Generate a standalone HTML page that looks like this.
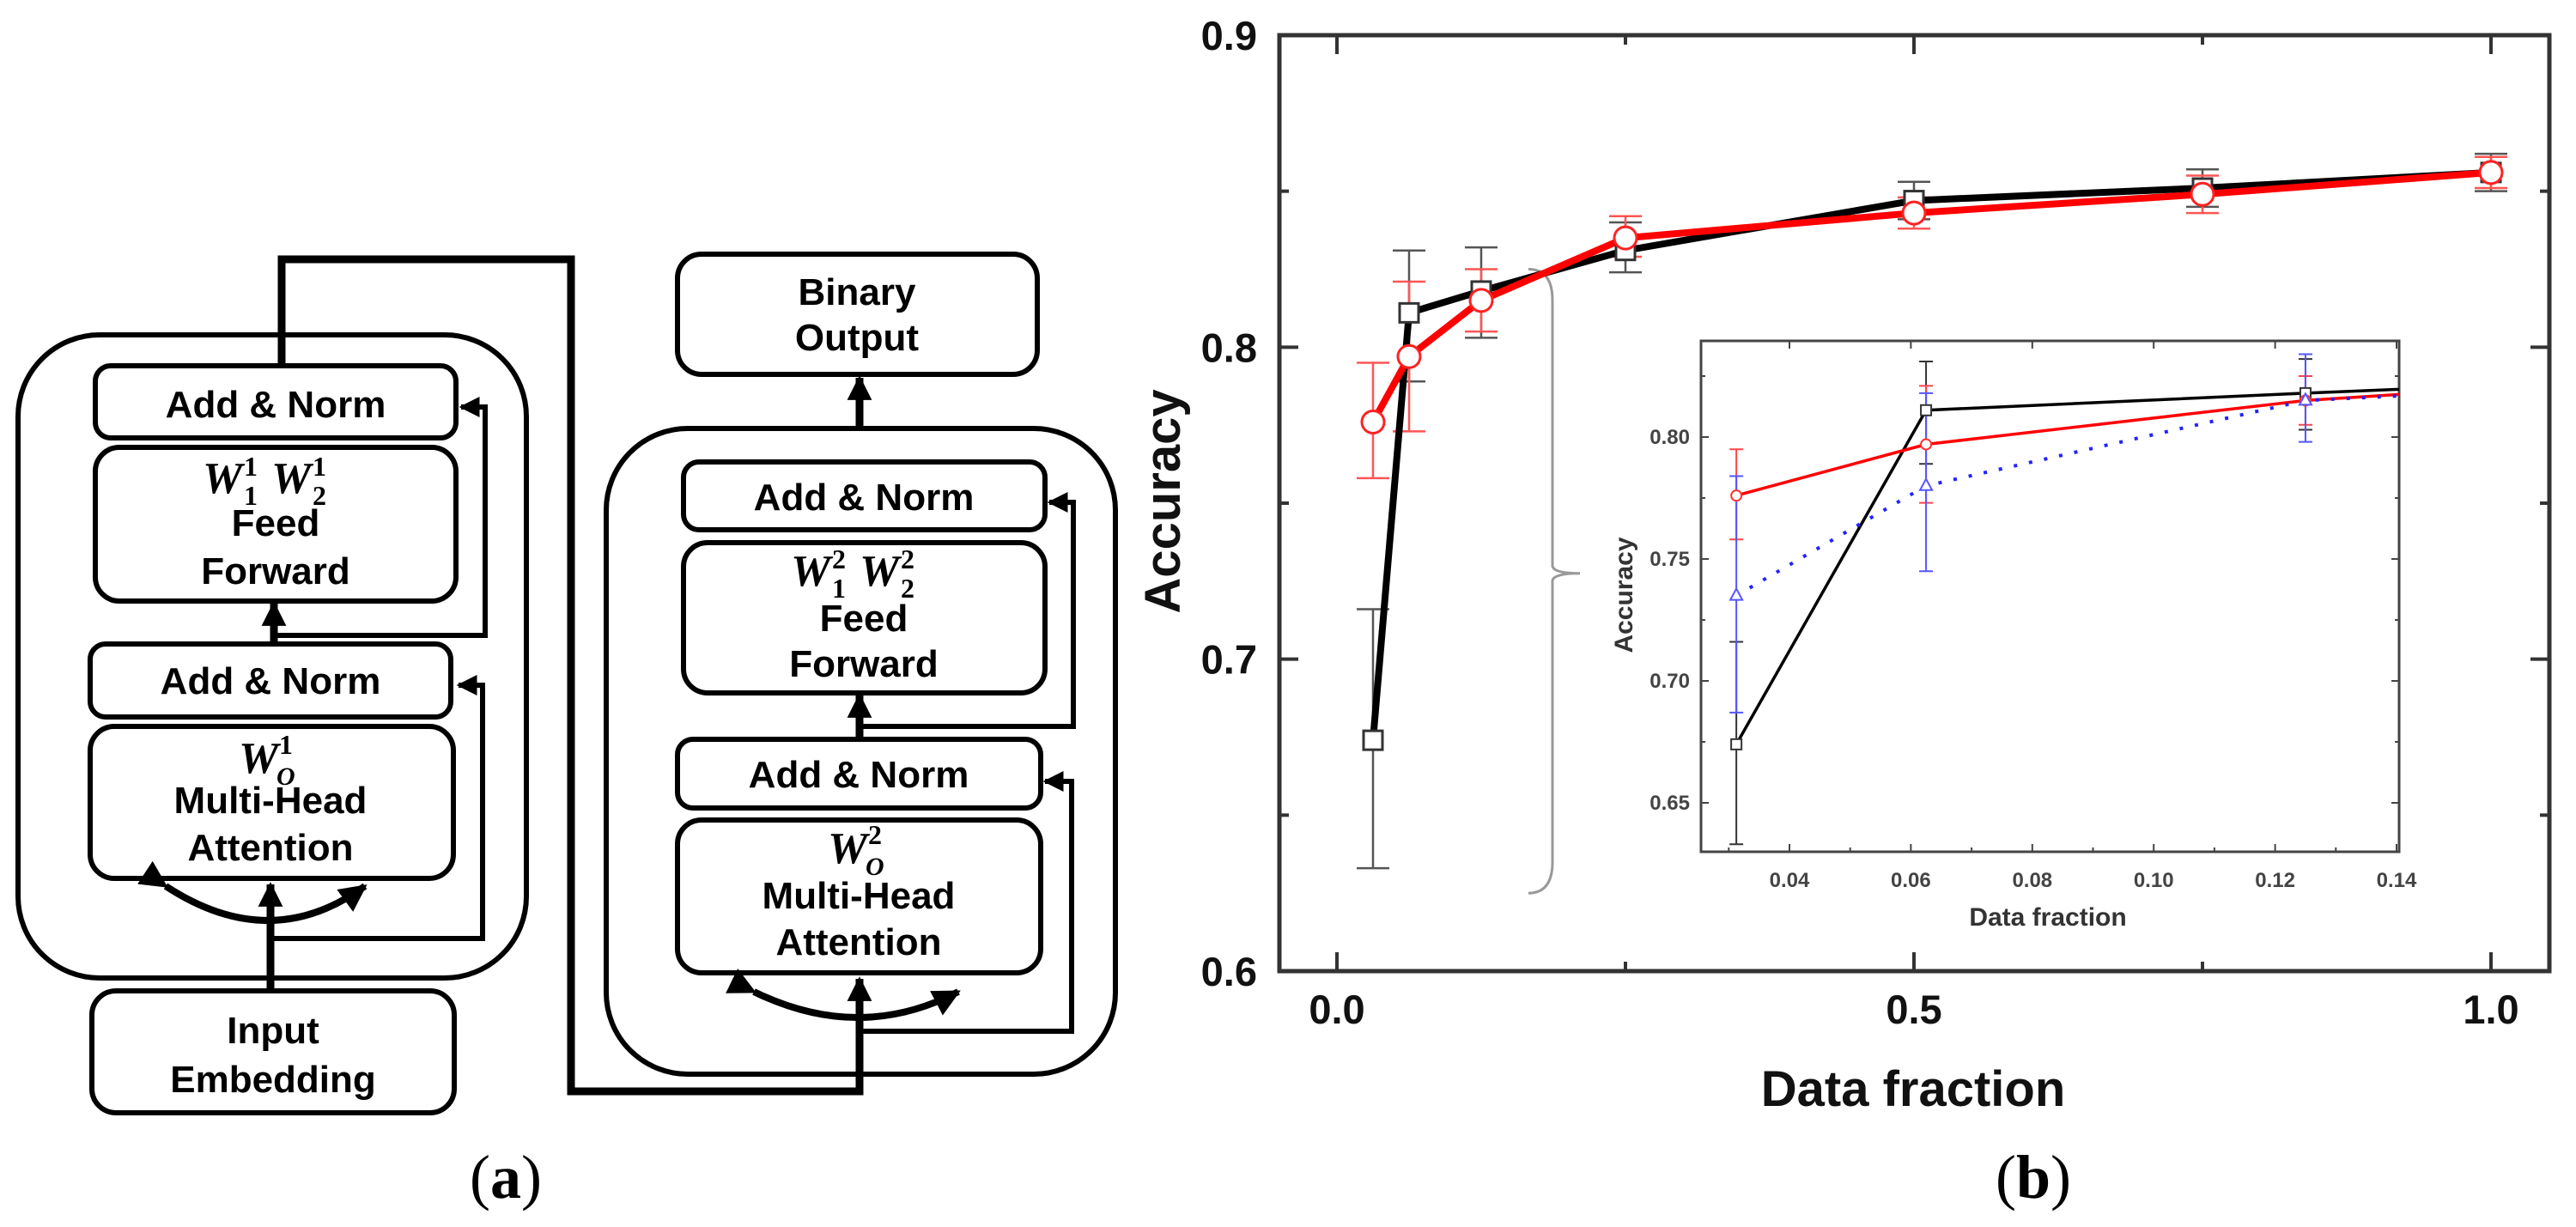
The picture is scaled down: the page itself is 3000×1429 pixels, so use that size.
<!DOCTYPE html>
<html><head><meta charset="utf-8"><style>
html,body{margin:0;padding:0;background:#fff;overflow:hidden}
svg{display:block}
text{font-family:"Liberation Sans",Arial,sans-serif}
.m{font-family:"Liberation Serif",serif;font-style:italic;font-weight:bold;font-size:52px}
.s{font-family:"Liberation Serif",serif;font-weight:bold;font-size:32px}
.si{font-family:"Liberation Serif",serif;font-style:italic;font-weight:bold;font-size:30px}
</style></head><body>
<svg id="fig" width="3000" height="1429" viewBox="0 0 3000 1429">
<defs>
<marker id="ah" viewBox="0 0 10 10" refX="9" refY="5" markerWidth="3.2" markerHeight="3.2" orient="auto"><path d="M0,0L10,5L0,10z" fill="#000"/></marker>
<marker id="ahs" viewBox="0 0 10 10" refX="9" refY="5" markerWidth="4" markerHeight="4" orient="auto"><path d="M0,0L10,5L0,10z" fill="#000"/></marker>
</defs>
<g id="diagram" fill="none" stroke="#000" stroke-width="6">
  <rect x="21" y="390" width="592" height="749" rx="95"/>
  <rect x="111" y="426" width="420" height="84" rx="18" fill="#fff"/>
  <rect x="111" y="521" width="420" height="179" rx="28" fill="#fff"/>
  <rect x="105" y="750" width="420" height="85" rx="18" fill="#fff"/>
  <rect x="105" y="846" width="423" height="177" rx="28" fill="#fff"/>
  <rect x="107" y="1154" width="422" height="142" rx="28" fill="#fff"/>
  <line x1="315" y1="1154" x2="315" y2="1030" stroke-width="9" marker-end="url(#ah)"/>
  <polyline points="315,1093 562,1093 562,798 534,798" stroke-width="6" marker-end="url(#ahs)"/>
  <line x1="319" y1="750" x2="319" y2="703" stroke-width="9" marker-end="url(#ah)"/>
  <polyline points="319,740 565,740 565,474 537,474" stroke-width="6" marker-end="url(#ahs)"/>
  <path d="M193,1032 Q315,1112 425,1032" stroke-width="8" marker-start="url(#ahs)" marker-end="url(#ahs)"/>
  <polyline points="328,426 328,302 665,302 665,1271 1001,1271 1001,1140" stroke-width="9" marker-end="url(#ah)"/>
  <rect x="706" y="499" width="593" height="752" rx="95"/>
  <rect x="789" y="296" width="419" height="140" rx="28" fill="#fff"/>
  <line x1="1001" y1="499" x2="1001" y2="440" stroke-width="9" marker-end="url(#ah)"/>
  <rect x="796" y="538" width="421" height="79" rx="18" fill="#fff"/>
  <rect x="796" y="632" width="421" height="175" rx="28" fill="#fff"/>
  <rect x="789" y="861" width="423" height="80" rx="18" fill="#fff"/>
  <rect x="789" y="955" width="423" height="178" rx="28" fill="#fff"/>
  <line x1="1001" y1="861" x2="1001" y2="810" stroke-width="9" marker-end="url(#ah)"/>
  <polyline points="1001,846 1250,846 1250,585 1222,585" stroke-width="6" marker-end="url(#ahs)"/>
  <polyline points="1001,1201 1248,1201 1248,910 1217,910" stroke-width="6" marker-end="url(#ahs)"/>
  <path d="M878,1155 Q1001,1215 1116,1155" stroke-width="8" marker-start="url(#ahs)" marker-end="url(#ahs)"/>
</g>
<g font-weight="bold" font-size="44" text-anchor="middle" fill="#000">
  <text x="321" y="486">Add &amp; Norm</text>
  <g text-anchor="start">
    <text class="m" x="236" y="574">W</text><text class="s" x="284" y="554">1</text><text class="s" x="284" y="588">1</text>
    <text class="m" x="316" y="574">W</text><text class="s" x="364" y="554">1</text><text class="s" x="364" y="588">2</text>
  </g>
  <text x="321" y="624">Feed</text>
  <text x="321" y="680">Forward</text>
  <text x="315" y="808">Add &amp; Norm</text>
  <g text-anchor="start">
    <text class="m" x="278" y="900">W</text><text class="s" x="325" y="878">1</text><text class="si" x="322" y="914">O</text>
  </g>
  <text x="315" y="947">Multi-Head</text>
  <text x="315" y="1002">Attention</text>
  <text x="318" y="1215">Input</text>
  <text x="318" y="1272">Embedding</text>
  <text x="998" y="355">Binary</text>
  <text x="998" y="408">Output</text>
  <text x="1006" y="594">Add &amp; Norm</text>
  <g text-anchor="start">
    <text class="m" x="921" y="682">W</text><text class="s" x="969" y="662">2</text><text class="s" x="969" y="696">1</text>
    <text class="m" x="1001" y="682">W</text><text class="s" x="1049" y="662">2</text><text class="s" x="1049" y="696">2</text>
  </g>
  <text x="1006" y="735">Feed</text>
  <text x="1006" y="788">Forward</text>
  <text x="1000" y="917">Add &amp; Norm</text>
  <g text-anchor="start">
    <text class="m" x="964" y="1005">W</text><text class="s" x="1011" y="983">2</text><text class="si" x="1008" y="1019">O</text>
  </g>
  <text x="1000" y="1058">Multi-Head</text>
  <text x="1000" y="1112">Attention</text>
</g>
<text x="589" y="1395" font-size="72" text-anchor="middle" style="font-family:'Liberation Serif',serif">(<tspan font-weight="bold">a</tspan>)</text>
<text x="2368" y="1395" font-size="72" text-anchor="middle" style="font-family:'Liberation Serif',serif">(<tspan font-weight="bold">b</tspan>)</text>
<g id="chart"></g>
</svg>
<script>
const fractions = [0.03125, 0.0625, 0.125, 0.25, 0.5, 0.75, 1.0];
const blackAcc = [0.674, 0.811, 0.818, 0.831, 0.847, 0.851, 0.856];
const blackLo = [0.633, 0.789, 0.803, 0.824, 0.841, 0.845, 0.850];
const blackHi = [0.716, 0.831, 0.832, 0.840, 0.853, 0.857, 0.862];
const redAcc = [0.776, 0.797, 0.815, 0.835, 0.843, 0.849, 0.856];
const redLo = [0.758, 0.773, 0.805, 0.829, 0.838, 0.843, 0.851];
const redHi = [0.795, 0.821, 0.825, 0.842, 0.848, 0.855, 0.861];
const blueAcc = [0.735, 0.780, 0.815, 0.830];
const blueLo = [0.687, 0.745, 0.798, 0.822];
const blueHi = [0.784, 0.818, 0.834, 0.838];
const xTicks = [0.0, 0.5, 1.0];
const xTickLabels = ["0.0", "0.5", "1.0"];
const yTicks = [0.6, 0.7, 0.8, 0.9];
const yTickLabels = ["0.6", "0.7", "0.8", "0.9"];
const insetXTicks = [0.04, 0.06, 0.08, 0.10, 0.12, 0.14];
const insetXTickLabels = ["0.04", "0.06", "0.08", "0.10", "0.12", "0.14"];
const insetYTicks = [0.65, 0.70, 0.75, 0.80];
const insetYTickLabels = ["0.65", "0.70", "0.75", "0.80"];

const NS = "http://www.w3.org/2000/svg";
const root = document.getElementById("chart");
function mk(tag, attrs, parent) {
  const e = document.createElementNS(NS, tag);
  for (const k in attrs) e.setAttribute(k, attrs[k]);
  (parent || root).appendChild(e);
  return e;
}
const L = 1490, R = 2969, T = 41, B = 1131;
const X = v => 1557 + 1344 * v;
const Y = v => 41 + (0.9 - v) * 3633.33;
const iL = 1981, iR = 2794, iT = 397, iB = 992;
const iX = v => 2084 + (v - 0.04) * 7070;
const iY = v => 509 + (0.80 - v) * 2840;

const plot = mk("g", {});


const frame = mk("rect", {x: L, y: T, width: R - L, height: B - T, fill: "none", stroke: "#333", "stroke-width": 5}, plot);


[0, 0.25, 0.5, 0.75, 1.0].forEach((v, i) => {
  const len = (i % 2 === 0) ? 22 : 11;
  const t1 = mk("line", {x1: X(v), x2: X(v), y1: B, y2: B - len, stroke: "#333", "stroke-width": 4}, plot);
  
  
  mk("line", {x1: X(v), x2: X(v), y1: T, y2: T + len, stroke: "#333", "stroke-width": 4}, plot);
});
[0.6, 0.65, 0.7, 0.75, 0.8, 0.85, 0.9].forEach((v, i) => {
  const len = (i % 2 === 0) ? 22 : 11;
  const t = mk("line", {x1: L, x2: L + len, y1: Y(v), y2: Y(v), stroke: "#333", "stroke-width": 4}, plot);
  
  
  mk("line", {x1: R, x2: R - len, y1: Y(v), y2: Y(v), stroke: "#333", "stroke-width": 4}, plot);
});
xTicks.forEach((v, i) => {
  const t = mk("text", {x: X(v), y: 1192, "text-anchor": "middle", "font-size": 47, "font-weight": "bold", fill: "#111"}, plot);
  t.textContent = xTickLabels[i];
  
  
});
yTicks.forEach((v, i) => {
  const t = mk("text", {x: 1464, y: Y(v) + 17, "text-anchor": "end", "font-size": 47, "font-weight": "bold", fill: "#111"}, plot);
  t.textContent = yTickLabels[i];
  
  
});
const xt = mk("text", {x: 2228, y: 1288, "text-anchor": "middle", "font-size": 58, "font-weight": "bold", fill: "#111"}, plot);
xt.textContent = "Data fraction";


const yt = mk("text", {x: 0, y: 0, "text-anchor": "middle", "font-size": 58, "font-weight": "bold", fill: "#111", transform: "translate(1374,584) rotate(-90)"}, plot);
yt.textContent = "Accuracy";



const brace = mk("path", {d: `M1780,${Y(0.825)} Q1808,${Y(0.825)} 1808,${Y(0.815)} L1808,${Y(0.73)} Q1808,${Y(0.7275)} 1840,${Y(0.7275)} Q1808,${Y(0.7275)} 1808,${Y(0.725)} L1808,${Y(0.635)} Q1808,${Y(0.625)} 1780,${Y(0.625)}`, fill: "none", stroke: "#999", "stroke-width": 3}, plot);



function errbars(xs, lo, hi, xf, yf, color, cap, w, parent, name) {
  xs.forEach((v, i) => {
    if (lo[i] === undefined) return;
    const g = mk("g", {stroke: color, "stroke-width": w, fill: "none"}, parent);
    
    
    mk("line", {x1: xf(v), x2: xf(v), y1: yf(lo[i]), y2: yf(hi[i])}, g);
    mk("line", {x1: xf(v) - cap, x2: xf(v) + cap, y1: yf(lo[i]), y2: yf(lo[i])}, g);
    mk("line", {x1: xf(v) - cap, x2: xf(v) + cap, y1: yf(hi[i]), y2: yf(hi[i])}, g);
  });
}
errbars(fractions, blackLo, blackHi, X, Y, "#555", 19, 2.5, plot, "black-error-bar");
errbars(fractions, redLo, redHi, X, Y, "#f55", 19, 2.5, plot, "red-error-bar");
const bl = mk("polyline", {points: fractions.map((v, i) => X(v) + "," + Y(blackAcc[i])).join(" "), fill: "none", stroke: "#000", "stroke-width": 8}, plot);


const rl = mk("polyline", {points: fractions.map((v, i) => X(v) + "," + Y(redAcc[i])).join(" "), fill: "none", stroke: "#f00", "stroke-width": 8}, plot);


fractions.forEach((v, i) => {
  const s = mk("rect", {x: X(v) - 11, y: Y(blackAcc[i]) - 11, width: 22, height: 22, fill: "#fff", stroke: "#333", "stroke-width": 3}, plot);
  
  
});
fractions.forEach((v, i) => {
  const c = mk("circle", {cx: X(v), cy: Y(redAcc[i]), r: 13, fill: "#fff", stroke: "#f22", "stroke-width": 3}, plot);
  
  
});

const inset = mk("g", {});


mk("rect", {x: iL, y: iT, width: iR - iL, height: iB - iT, fill: "#fff", stroke: "#444", "stroke-width": 3}, inset);
const clip = mk("clipPath", {id: "iclip"}, inset);
mk("rect", {x: iL, y: iT, width: iR - iL, height: iB - iT}, clip);
insetXTicks.forEach((v, i) => {
  mk("line", {x1: iX(v), x2: iX(v), y1: iB, y2: iB - 9, stroke: "#444", "stroke-width": 2}, inset);
  mk("line", {x1: iX(v), x2: iX(v), y1: iT, y2: iT + 9, stroke: "#444", "stroke-width": 2}, inset);
  mk("line", {x1: iX(v - 0.01), x2: iX(v - 0.01), y1: iB, y2: iB - 5, stroke: "#444", "stroke-width": 2}, inset);
  const t = mk("text", {x: iX(v), y: 1033, "text-anchor": "middle", "font-size": 24, "font-weight": "bold", fill: "#444"}, inset);
  t.textContent = insetXTickLabels[i];
  
  
});
insetYTicks.forEach((v, i) => {
  mk("line", {x1: iL, x2: iL + 9, y1: iY(v), y2: iY(v), stroke: "#444", "stroke-width": 2}, inset);
  mk("line", {x1: iR, x2: iR - 9, y1: iY(v), y2: iY(v), stroke: "#444", "stroke-width": 2}, inset);
  mk("line", {x1: iL, x2: iL + 5, y1: iY(v + 0.025), y2: iY(v + 0.025), stroke: "#444", "stroke-width": 2}, inset);
  mk("line", {x1: iR, x2: iR - 5, y1: iY(v + 0.025), y2: iY(v + 0.025), stroke: "#444", "stroke-width": 2}, inset);
  const t = mk("text", {x: 1968, y: iY(v) + 8, "text-anchor": "end", "font-size": 24, "font-weight": "bold", fill: "#444"}, inset);
  t.textContent = insetYTickLabels[i];
  
  
});
const ixt = mk("text", {x: 2385, y: 1078, "text-anchor": "middle", "font-size": 30, "font-weight": "bold", fill: "#333"}, inset);
ixt.textContent = "Data fraction";


const iyt = mk("text", {x: 0, y: 0, "text-anchor": "middle", "font-size": 30, "font-weight": "bold", fill: "#333", transform: "translate(1901,693) rotate(-90)"}, inset);
iyt.textContent = "Accuracy";


const ig = mk("g", {"clip-path": "url(#iclip)"}, inset);
const ifr = fractions.slice(0, 4);
errbars(ifr, blackLo, blackHi, iX, iY, "#333", 8, 2, ig, "inset-black-error-bar");
errbars(ifr, redLo, redHi, iX, iY, "#f44", 8, 2, ig, "inset-red-error-bar");
errbars(ifr, blueLo, blueHi, iX, iY, "#55f", 8, 2, ig, "inset-blue-error-bar");
const ibl = mk("polyline", {points: ifr.map((v, i) => iX(v) + "," + iY(blackAcc[i])).join(" "), fill: "none", stroke: "#000", "stroke-width": 3.5}, ig);


const irl = mk("polyline", {points: ifr.map((v, i) => iX(v) + "," + iY(redAcc[i])).join(" "), fill: "none", stroke: "#f00", "stroke-width": 3.5}, ig);


const ibd = mk("polyline", {points: ifr.map((v, i) => iX(v) + "," + iY(blueAcc[i])).join(" "), fill: "none", stroke: "#22f", "stroke-width": 4, "stroke-dasharray": "4 14"}, ig);


ifr.forEach((v, i) => {
  const s = mk("rect", {x: iX(v) - 6, y: iY(blackAcc[i]) - 6, width: 12, height: 12, fill: "#fff", stroke: "#333", "stroke-width": 2}, ig);
  
  
  const c = mk("circle", {cx: iX(v), cy: iY(redAcc[i]), r: 6, fill: "#fff", stroke: "#f33", "stroke-width": 2}, ig);
  
  
  const x0 = iX(v), y0 = iY(blueAcc[i]);
  const tr = mk("polygon", {points: `${x0},${y0 - 8} ${x0 - 7},${y0 + 5} ${x0 + 7},${y0 + 5}`, fill: "#fff", stroke: "#55f", "stroke-width": 2}, ig);
  
  
});
</script>
</body></html>
